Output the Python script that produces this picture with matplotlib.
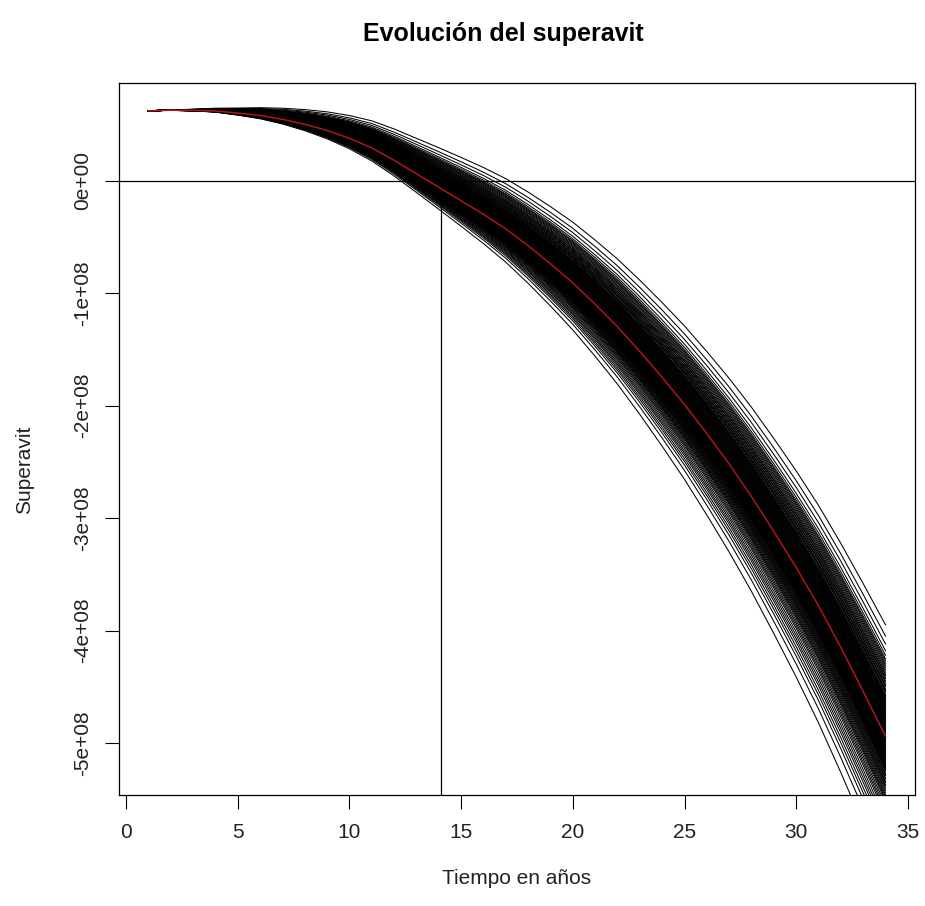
import matplotlib
matplotlib.use("Agg")
import matplotlib.pyplot as plt
import numpy as np

plt.rcParams['font.family'] = ['Liberation Sans', 'DejaVu Sans']

years = np.arange(1, 35)

# mean surplus path (red line), units of 1e8
mean_path = [0.62, 0.625, 0.624, 0.618, 0.60, 0.578, 0.544, 0.50, 0.445, 0.375,
             0.29, 0.18, 0.06, -0.06, -0.18, -0.30, -0.43, -0.58, -0.74, -0.91,
             -1.10, -1.30, -1.52, -1.75, -1.99, -2.25, -2.52, -2.81, -3.12, -3.44,
             -3.78, -4.15, -4.54, -4.94]

# how much the paths above / below the mean have fanned out each year (1 = year 34)
spread_up = [0.0, 0.003, 0.010, 0.025, 0.045, 0.070, 0.100, 0.132, 0.167, 0.205,
             0.243, 0.281, 0.318, 0.355, 0.389, 0.420, 0.451, 0.482, 0.513, 0.545,
             0.576, 0.608, 0.640, 0.672, 0.704, 0.737, 0.769, 0.802, 0.835, 0.868,
             0.901, 0.934, 0.967, 1.0]
spread_down = [0.0, 0.001, 0.004, 0.008, 0.015, 0.023, 0.033, 0.045, 0.059, 0.074,
               0.092, 0.111, 0.132, 0.155, 0.180, 0.207, 0.235, 0.265, 0.298, 0.332,
               0.367, 0.405, 0.444, 0.486, 0.529, 0.574, 0.621, 0.669, 0.720, 0.772,
               0.826, 0.883, 0.940, 1.0]

# value of each simulated path at year 34, units of 1e8
end_values = [-3.95, -4.05, -4.12, -4.18, -4.22, -4.25, -4.27, -4.29, -4.31, -4.33,
              -4.35, -4.37, -4.39, -4.40, -4.42, -4.43, -4.45, -4.46, -4.48, -4.49,
              -4.50, -4.52, -4.53, -4.54, -4.55, -4.57, -4.58, -4.59, -4.60, -4.61,
              -4.62, -4.63, -4.64, -4.65, -4.66, -4.67, -4.68, -4.69, -4.70, -4.71,
              -4.72, -4.73, -4.74, -4.75, -4.76, -4.77, -4.78, -4.79, -4.80, -4.81,
              -4.82, -4.83, -4.84, -4.85, -4.86, -4.87, -4.88, -4.89, -4.90, -4.91,
              -4.92, -4.93, -4.94, -4.95, -4.96, -4.97, -4.98, -4.99, -5.00, -5.01,
              -5.02, -5.03, -5.04, -5.05, -5.06, -5.07, -5.08, -5.09, -5.10, -5.11,
              -5.12, -5.13, -5.14, -5.15, -5.16, -5.17, -5.18, -5.19, -5.20, -5.21,
              -5.22, -5.23, -5.24, -5.25, -5.27, -5.28, -5.29, -5.31, -5.32, -5.34,
              -5.35, -5.37, -5.38, -5.40, -5.42, -5.44, -5.46, -5.48, -5.50, -5.52,
              -5.55, -5.58, -5.61, -5.64, -5.68, -5.72, -5.76, -5.80, -5.85, -5.90,
              -5.96, -6.05, -6.20]

x_ticks = [0, 5, 10, 15, 20, 25, 30, 35]
y_ticks = [-5e8, -4e8, -3e8, -2e8, -1e8, 0]
y_tick_labels = ["-5e+08", "-4e+08", "-3e+08", "-2e+08", "-1e+08", "0e+00"]
cut_year = 14.1

W, H = 925, 906
fig = plt.figure(figsize=(W / 100, H / 100), dpi=100)
ax = fig.add_axes([119 / W, 1 - 795 / H, 796 / W, 712 / H])

mean_arr = np.array(mean_path)
up = np.array(spread_up)
down = np.array(spread_down)
for e in end_values:
    d = e - mean_arr[-1]
    w = up if d > 0 else down
    path = mean_arr + d * w
    ax.plot(years, path * 1e8, color='black', lw=0.75)

ax.plot(years, mean_arr * 1e8, color='#b0141c', lw=1.1, zorder=3)
ax.axhline(0, color='black', lw=0.9, zorder=1)
ax.plot([cut_year, cut_year], [0, -7e8], color='black', lw=0.9, zorder=1)

ax.set_xlim(-0.32, 35.32)
ax.set_ylim(-5.462e8, 0.867e8)
ax.set_xticks(x_ticks)
ax.set_xticklabels([str(v) for v in x_ticks])
ax.set_yticks(y_ticks)
ax.set_yticklabels(y_tick_labels, rotation=90, va='center')
ax.tick_params(axis='both', length=10, width=0.8, labelsize=15, color='black',
               labelcolor='#222222')
ax.tick_params(axis='x', pad=10)
ax.tick_params(axis='y', pad=9)
for s in ax.spines.values():
    s.set_linewidth(0.9)

fig.text(503 / W, 1 - 34 / H, 'Evolución del superavit', ha='center', va='center',
         fontsize=18, fontweight='bold')
fig.text(517 / W, 1 - 878 / H, 'Tiempo en años', ha='center', va='center',
         fontsize=15, color='#222222')
fig.text(25 / W, 1 - 470 / H, 'Superavit', ha='center', va='center', rotation=90,
         fontsize=15, color='#222222')

fig.savefig('out.png', dpi=100)
